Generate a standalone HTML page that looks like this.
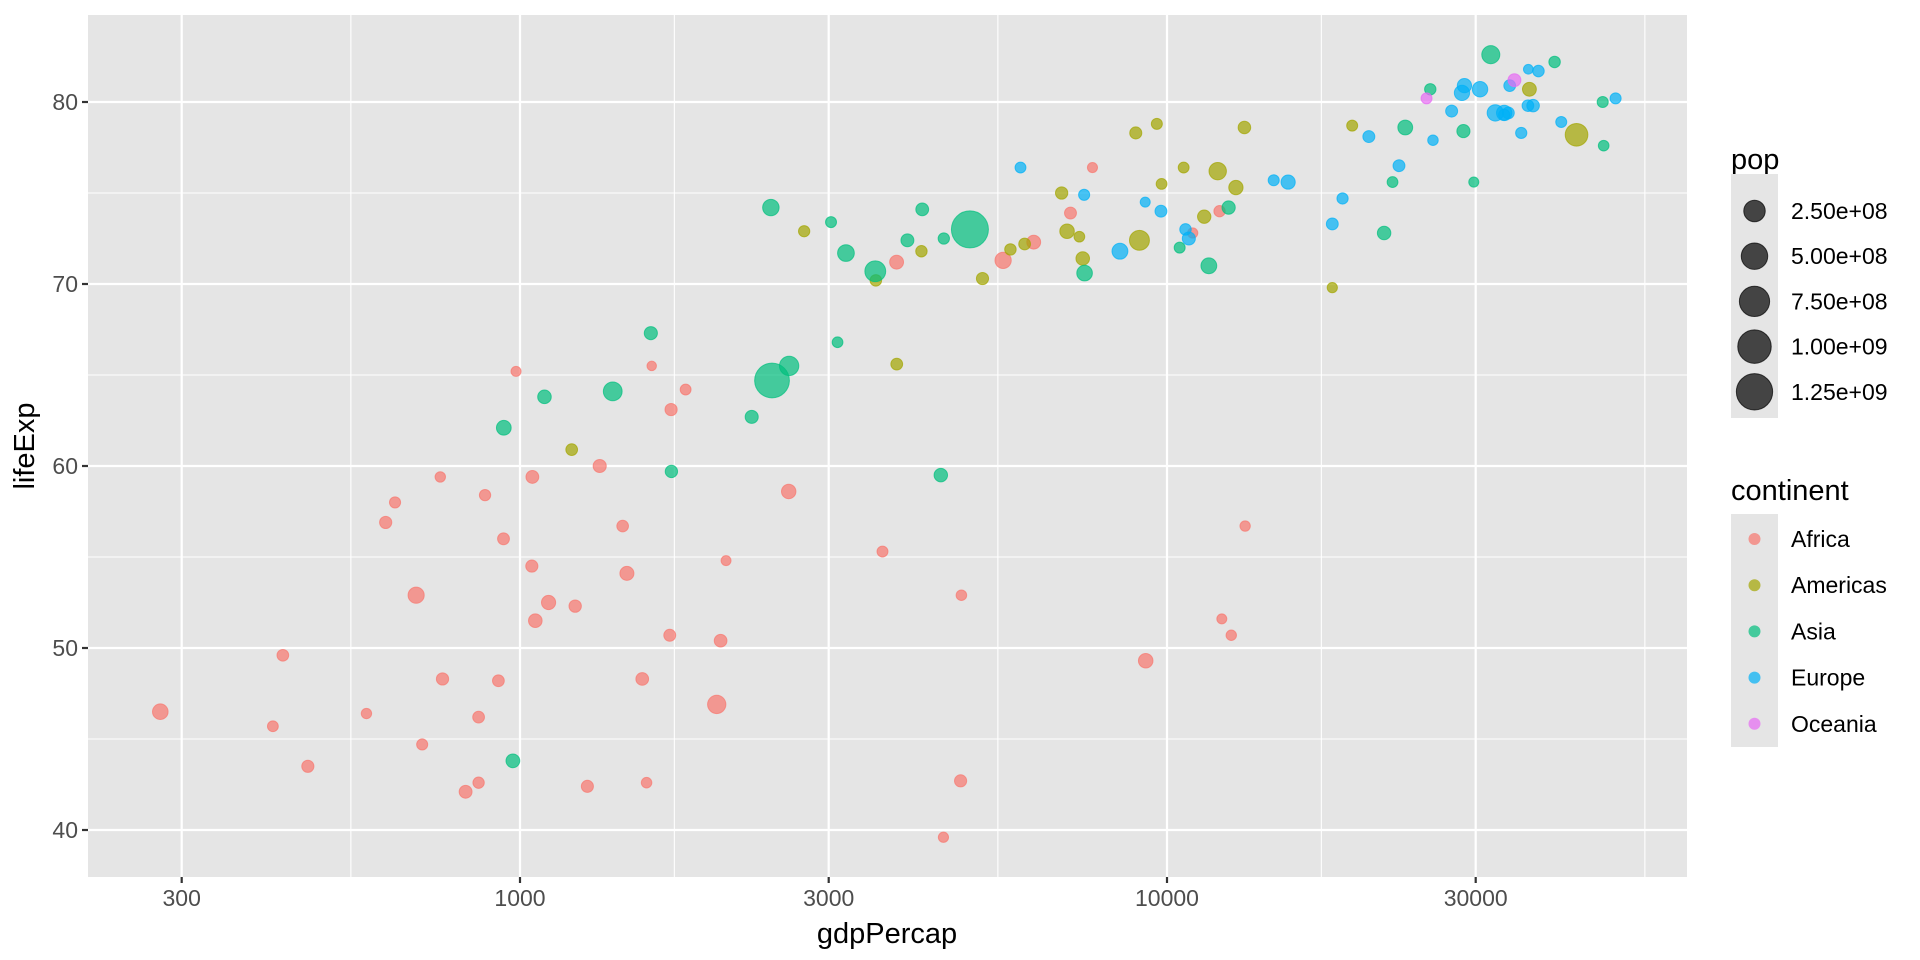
<!DOCTYPE html>
<html><head><meta charset="utf-8"><style>
html,body{margin:0;padding:0;background:#fff;}
svg{display:block;font-family:"Liberation Sans",sans-serif;}
</style></head><body>
<svg id="chart" width="1920" height="960" viewBox="0 0 1920 960" xmlns="http://www.w3.org/2000/svg">
<rect x="88" y="15" width="1599" height="862" fill="#E5E5E5"/>
<g id="grid"></g>
<g id="points"></g>
<g id="axes"></g>
<text x="887" y="943" font-size="29" text-anchor="middle" fill="#000">gdpPercap</text>
<text transform="translate(34,446) rotate(-90)" font-size="29" text-anchor="middle" fill="#000">lifeExp</text>
<g id="legend"></g>
</svg>
<script>
const gdp = [6223,4797,1441,12570,1217,430,2042,706,1704,986,278,3633,1545,2082,5581,12154,641,691,13206,753,1328,943,579,1463,1569,415,12057,1045,759,1043,1803,10957,3820,824,4811,620,2014,7670,863,1598,1712,863,926,9270,2602,4513,1107,883,7093,1056,1271,470,
12779,3822,9066,36319,13172,7007,9645,8948,6025,6873,5728,5186,1202,3548,7321,11978,2749,9809,4173,7409,19329,18009,42952,10611,11416,
975,29796,1391,1714,4959,39725,2452,3541,11606,4471,25523,31656,4519,1593,23348,47307,10461,12452,3096,944,1091,22316,2606,3190,21655,47143,3970,4185,28718,7458,2442,3025,2281,
5937,36126,33693,7446,10681,14619,22833,35278,33207,30470,32170,27538,18009,36181,40676,28570,9254,36798,49357,15390,20510,10808,9787,18678,25768,28821,33860,37506,8458,33203,
34435,25185];
const lifeExp = [72.3,42.7,56.7,50.7,52.3,49.6,50.4,44.7,50.7,65.2,46.5,55.3,48.3,54.8,71.3,51.6,58.0,52.9,56.7,59.4,60.0,56.0,46.4,54.1,42.6,45.7,74.0,59.4,48.3,54.5,64.2,72.8,71.2,42.1,52.9,56.9,46.9,76.4,46.2,65.5,63.1,42.6,48.2,49.3,58.6,39.6,52.5,58.4,73.9,51.5,42.4,43.5,
75.3,65.6,72.4,80.7,78.6,72.9,78.8,78.3,72.2,75.0,71.9,70.3,60.9,70.2,72.6,76.2,72.9,75.5,71.8,71.4,78.7,69.8,78.2,76.4,73.7,
43.8,75.6,64.1,59.7,73.0,82.2,64.7,70.7,71.0,59.5,80.7,82.6,72.5,67.3,78.6,77.6,72.0,74.2,66.8,62.1,63.8,75.6,65.5,71.7,72.8,80.0,72.4,74.1,78.4,70.6,74.2,73.4,62.7,
76.4,79.8,79.4,74.9,73.0,75.7,76.5,78.3,79.3,80.7,79.4,79.5,73.3,81.8,78.9,80.5,74.5,79.8,80.2,75.6,78.1,72.5,74.0,74.7,77.9,80.9,80.9,81.7,71.8,79.4,
81.2,80.2];
const pop = [33.3,12.4,8.1,1.6,14.3,8.4,17.7,4.4,10.2,0.71,64.6,3.8,18.0,0.5,80.3,0.55,4.9,76.5,1.45,1.7,22.9,9.9,1.5,35.6,2.0,3.2,6.0,19.2,13.3,12.0,3.3,1.25,33.8,20.0,2.1,12.9,135,0.8,8.9,0.2,12.3,6.1,9.1,44.0,42.3,1.1,38.1,5.7,10.3,29.2,11.7,12.3,
40.3,9.1,190,33.4,16.3,44.2,4.1,11.4,9.3,13.8,6.9,12.6,8.5,7.5,2.8,108.7,5.7,3.2,6.7,28.7,3.9,1.06,301,3.4,26.1,
31.9,0.7,150,14.1,1318,6.98,1110,224,69.5,27.5,6.4,127,6.05,23.3,49.0,2.5,3.9,24.8,2.9,47.8,28.9,3.2,169,91.1,27.6,4.6,20.4,19.3,23.2,65.1,85.3,4.0,22.2,
3.6,8.2,10.4,4.6,7.3,4.5,10.2,5.5,5.2,61.1,82.4,10.7,9.96,0.3,4.1,58.1,0.68,16.6,4.6,38.5,10.6,22.3,10.2,5.4,2.0,40.4,9.0,7.55,71.2,60.8,
20.4,4.1];
const continent = [].concat(Array(52).fill("Africa"),Array(25).fill("Americas"),Array(33).fill("Asia"),Array(30).fill("Europe"),Array(2).fill("Oceania"));
const continents = ["Africa","Americas","Asia","Europe","Oceania"];
const xTicks = [300,1000,3000,10000,30000];
const yTicks = [40,50,60,70,80];
const popBreaks = [2.5e8,5e8,7.5e8,1e9,1.25e9];
const popLabels = ["2.50e+08","5.00e+08","7.50e+08","1.00e+09","1.25e+09"];

const colors = {Africa:"#F8766D",Americas:"#A3A500",Asia:"#00BF7D",Europe:"#00B0F6",Oceania:"#E76BF3"};
const NS = "http://www.w3.org/2000/svg";
const L=88,R=1687,T=15,B=877;
const xs = v => 520 + 647*Math.log10(v/1000);
const ys = v => 102 + (80-v)*18.2;
const popM = pop.map(p=>p*1e6);
const pMin = Math.min(...popM), pMax = Math.max(...popM);
const rad = p => { const s = 1+5*Math.sqrt(Math.max(0,(p-pMin)/(pMax-pMin))); return (5.5*s+4)/2; };
function mk(tag, attrs, parent){ const e=document.createElementNS(NS,tag); for(const k in attrs) e.setAttribute(k,attrs[k]); parent.appendChild(e); return e; }
const grid = document.getElementById('grid');
for(let i=0;i<xTicks.length;i++){
  const m = i<xTicks.length-1 ? Math.sqrt(xTicks[i]*xTicks[i+1]) : Math.sqrt(xTicks[i]*xTicks[i]*10/3);
  const x = xs(m);
  if(x>L && x<R){ const g=mk('line',{x1:x,x2:x,y1:T,y2:B,stroke:'#fff','stroke-width':1.1},grid);
    
     }
}
for(let v=35; v<=85; v+=10){ const y=ys(v); if(y>T && y<B){ const g=mk('line',{x1:L,x2:R,y1:y,y2:y,stroke:'#fff','stroke-width':1.1},grid);
  
   } }
const axes = document.getElementById('axes');
xTicks.forEach(t=>{ const x=xs(t);
  const g=mk('line',{x1:x,x2:x,y1:T,y2:B,stroke:'#fff','stroke-width':2.2},grid);
  
  
  const tk=mk('line',{x1:x,x2:x,y1:B,y2:B+6,stroke:'#333','stroke-width':2.2},axes);
  
  
  const tx=mk('text',{x:x,y:906,'font-size':23,'text-anchor':'middle',fill:'#4D4D4D'},axes); tx.textContent=t;
  
  
});
yTicks.forEach(t=>{ const y=ys(t);
  const g=mk('line',{x1:L,x2:R,y1:y,y2:y,stroke:'#fff','stroke-width':2.2},grid);
  
  
  const tk=mk('line',{x1:L-6,x2:L,y1:y,y2:y,stroke:'#333','stroke-width':2.2},axes);
  
  
  const tx=mk('text',{x:L-10,y:y+8,'font-size':23,'text-anchor':'end',fill:'#4D4D4D'},axes); tx.textContent=t;
  
  
});
const pts = document.getElementById('points');
gdp.forEach((g,i)=>{ const c=colors[continent[i]];
  const e=mk('circle',{cx:xs(g),cy:ys(lifeExp[i]),r:rad(popM[i]),fill:c,'fill-opacity':0.7,stroke:c,'stroke-opacity':0.7,'stroke-width':1},pts);
  
  
});
const lg = document.getElementById('legend');
let t1=mk('text',{x:1731,y:169,'font-size':29,fill:'#000'},lg); t1.textContent='pop';


mk('rect',{x:1731,y:174,width:47,height:244,fill:'#E5E5E5'},lg);
popBreaks.forEach((b,i)=>{ const y=211+i*45.2;
  const c=mk('circle',{cx:1754.5,cy:y,r:rad(b),fill:'#000','fill-opacity':0.7,stroke:'#000','stroke-opacity':0.7,'stroke-width':1},lg);
  
  
  const t=mk('text',{x:1791,y:y+8,'font-size':23,fill:'#000'},lg); t.textContent=popLabels[i];
  
  
});
let t2=mk('text',{x:1731,y:500,'font-size':29,fill:'#000'},lg); t2.textContent='continent';


mk('rect',{x:1731,y:514,width:47,height:233,fill:'#E5E5E5'},lg);
continents.forEach((k,i)=>{ const y=539+i*46.2;
  const c=mk('circle',{cx:1754.5,cy:y,r:6,fill:colors[k],'fill-opacity':0.7},lg);
  
  
  const t=mk('text',{x:1791,y:y+8,'font-size':23,fill:'#000'},lg); t.textContent=k;
  
  
});
</script>
</body></html>
